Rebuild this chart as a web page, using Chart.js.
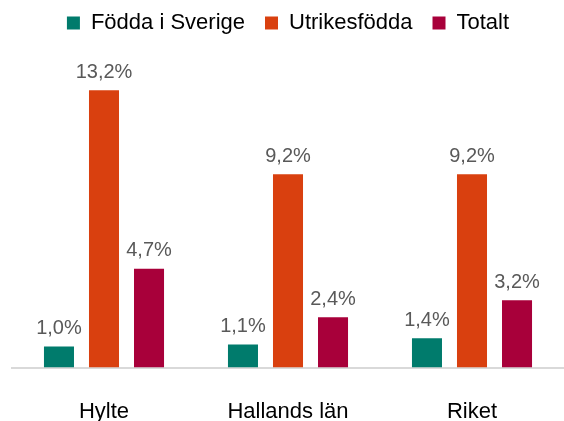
<!DOCTYPE html>
<html>
<head>
<meta charset="utf-8">
<script src="https://cdn.jsdelivr.net/npm/chart.js@4.4.0/dist/chart.umd.min.js"></script>
<style>
  html, body { margin: 0; padding: 0; background: #fff; overflow: hidden; }
  canvas { display: block; }
</style>
</head>
<body>
<canvas id="chart" width="564" height="421"></canvas>
<script>
// Chart data
const categories = ['Hylte', 'Hallands län', 'Riket'];
const seriesNames = ['Födda i Sverige', 'Utrikesfödda', 'Totalt'];
const fodda = [1.0, 1.1, 1.4];
const utrikes = [13.2, 9.2, 9.2];
const totalt = [4.7, 2.4, 3.2];

// Colors
const colors = ['#007B6C', '#D9400F', '#A8003A'];

const fontFamily = '"Liberation Sans", Arial, sans-serif';

// Value labels above bars
const valueLabels = {
    id: 'valueLabels',
    afterDatasetsDraw(chart) {
        const ctx = chart.ctx;
        ctx.save();
        ctx.font = '20px ' + fontFamily;
        ctx.fillStyle = '#595959';
        ctx.textAlign = 'center';
        ctx.textBaseline = 'bottom';
        chart.data.datasets.forEach((ds, i) => {
            chart.getDatasetMeta(i).data.forEach((bar, j) => {
                const txt = ds.data[j].toFixed(1).replace('.', ',') + '%';
                ctx.fillText(txt, bar.x, bar.y - 8);
            });
        });
        ctx.restore();
    }
};

const data = {
    labels: categories,
    datasets: [
        { label: seriesNames[0], data: fodda, backgroundColor: colors[0] },
        { label: seriesNames[1], data: utrikes, backgroundColor: colors[1] },
        { label: seriesNames[2], data: totalt, backgroundColor: colors[2] }
    ]
};

const config = {
    type: 'bar',
    data: data,
    options: {
        responsive: false,
        animation: false,
        layout: { padding: { left: 12, right: 0, top: -8, bottom: -27 } },
        datasets: {
            bar: { categoryPercentage: 0.734, barPercentage: 0.667 }
        },
        plugins: {
            legend: {
                position: 'top',
                labels: {
                    boxWidth: 13,
                    boxHeight: 13,
                    padding: 20,
                    color: '#000',
                    font: { family: fontFamily, size: 22 }
                }
            },
            tooltip: { enabled: false }
        },
        scales: {
            x: {
                grid: { display: false },
                border: { display: true, color: '#D9D9D9', width: 2 },
                ticks: {
                    color: '#000',
                    padding: 23,
                    font: { family: fontFamily, size: 22 }
                }
            },
            y: {
                display: false,
                min: 0,
                max: 15.4
            }
        }
    },
    plugins: [valueLabels]
};

new Chart(document.getElementById('chart'), config);
</script>
</body>
</html>
